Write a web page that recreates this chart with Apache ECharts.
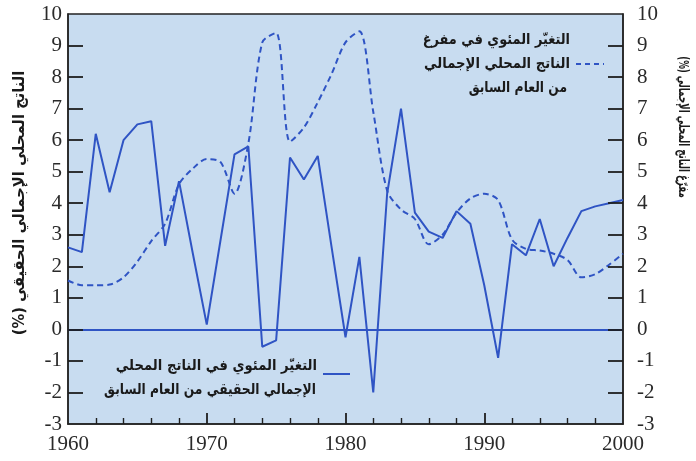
<!DOCTYPE html>
<html>
<head>
<meta charset="utf-8">
<script src="https://cdn.jsdelivr.net/npm/echarts@6/dist/echarts.min.js"></script>
<style>
  html, body { margin: 0; padding: 0; background: #ffffff; }
  #chart { width: 696px; height: 461px; }
</style>
</head>
<body>
<div id="chart"></div>
<script>
// Years on the horizontal axis
const years = [1960, 1961, 1962, 1963, 1964, 1965, 1966, 1967, 1968, 1969,
               1970, 1971, 1972, 1973, 1974, 1975, 1976, 1977, 1978, 1979,
               1980, 1981, 1982, 1983, 1984, 1985, 1986, 1987, 1988, 1989,
               1990, 1991, 1992, 1993, 1994, 1995, 1996, 1997, 1998, 1999, 2000];

// Annual % change in real GDP (solid line)
const realGdpGrowth = [2.6, 2.45, 6.2, 4.35, 6.0, 6.5, 6.6, 2.65, 4.7, 2.4,
                       0.15, 2.85, 5.55, 5.8, -0.55, -0.35, 5.45, 4.75, 5.5, 2.6,
                       -0.25, 2.3, -2.0, 4.3, 7.0, 3.7, 3.1, 2.9, 3.75, 3.35,
                       1.4, -0.9, 2.7, 2.35, 3.5, 2.0, 2.9, 3.75, 3.9, 4.0, 4.1];

// Annual % change in the GDP deflator (dashed line)
const deflatorChange = [1.55, 1.4, 1.4, 1.42, 1.65, 2.15, 2.8, 3.35, 4.6, 5.1,
                        5.4, 5.3, 4.3, 5.9, 9.1, 9.4, 5.95, 6.4, 7.2, 8.1,
                        9.1, 9.45, 6.9, 4.4, 3.8, 3.5, 2.7, 3.0, 3.7, 4.15,
                        4.3, 4.1, 2.85, 2.55, 2.5, 2.4, 2.2, 1.65, 1.75, 2.05, 2.4];

// Tick positions
const xMajorTicks = [1970, 1980, 1990];
const xMinorTicks = [1962, 1964, 1966, 1968, 1972, 1974, 1976, 1978,
                     1982, 1984, 1986, 1988, 1992, 1994, 1996, 1998];
const yTicks = [-2, -1, 0, 1, 2, 3, 4, 5, 6, 7, 8, 9];

// Axis ranges
const yMin = -3, yMax = 10, yStep = 1;
const xMin = 1960, xMax = 2000, xStep = 10;

// Texts
const leftTitle = '(%) الناتج المحلي الإجمالي الحقيقي';
const rightTitle = '(%) مفرّغ الناتج المحلي الإجمالي';
const deflatorLegend = ['التغيّر المئوي في مفرغ', 'الناتج المحلي الإجمالي', 'من العام السابق'];
const gdpLegend = ['التغيّر المئوي في الناتج المحلي', 'الإجمالي الحقيقي من العام السابق'];

const lineBlue = '#2f54c4';
const frame = '#222222';
const tickColor = '#1e1e1e';
const arabicFont = 'bold 15px "DejaVu Sans"';
const tickFont = { fontFamily: '"Liberation Serif", "DejaVu Serif", serif', fontSize: 21, color: '#2a2a2a' };

// Plot box and the data size of one pixel, used for tick lengths
const box = { left: 68, right: 73, top: 14, bottom: 37 };
const plotW = 696 - box.left - box.right;
const plotH = 461 - box.top - box.bottom;
const xPerPx = (xMax - xMin) / plotW;
const yPerPx = (yMax - yMin) / plotH;

// Inward tick marks as short segments
function tickSeg(from, to, width) {
  return [{ coord: from, lineStyle: { color: tickColor, width: width, type: 'solid' } }, { coord: to }];
}
const tickSegments = []
  .concat(xMajorTicks.map(v => tickSeg([v, yMin], [v, yMin + 11 * yPerPx], 1.8)))
  .concat(xMinorTicks.map(v => tickSeg([v, yMin], [v, yMin + 6 * yPerPx], 1.4)))
  .concat(yTicks.map(v => tickSeg([xMin, v], [xMin + 15 * xPerPx, v], 1.8)))
  .concat(yTicks.map(v => tickSeg([xMax, v], [xMax - 15 * xPerPx, v], 1.8)));

const chart = echarts.init(document.getElementById('chart'), null, { renderer: 'canvas' });

function valueAxis(pos, min, max, step, margin, formatter) {
  const label = Object.assign({ margin: margin }, tickFont);
  if (formatter) label.formatter = formatter;
  return {
    type: 'value', position: pos, min: min, max: max, interval: step,
    axisLine: { show: true, onZero: false, lineStyle: { color: frame, width: 1.5 } },
    axisTick: { show: false },
    axisLabel: label,
    splitLine: { show: false }
  };
}

function textEl(x, y, text, font, align, rotation, sx) {
  return {
    type: 'text', x: x, y: y, rotation: rotation || 0, scaleX: sx || 1, silent: true, z: 10,
    style: {
      text: text, font: font, fill: '#1a1a1a',
      align: align, verticalAlign: 'middle',
      textAlign: align, textVerticalAlign: 'middle'
    }
  };
}

const option = {
  animation: false,
  backgroundColor: '#ffffff',
  grid: {
    left: box.left, right: box.right, top: box.top, bottom: box.bottom,
    show: true, backgroundColor: '#c8dcf0', borderColor: frame, borderWidth: 1.5
  },
  xAxis: valueAxis('bottom', xMin, xMax, xStep, 10, v => String(v)),
  yAxis: [
    valueAxis('left', yMin, yMax, yStep, 6),
    valueAxis('right', yMin, yMax, yStep, 14)
  ],
  series: [
    {
      name: 'gdp', type: 'line',
      data: years.map((yr, i) => [yr, realGdpGrowth[i]]),
      symbol: 'none',
      lineStyle: { color: lineBlue, width: 2 },
      markLine: {
        silent: true, symbol: 'none', animation: false, label: { show: false },
        lineStyle: { color: lineBlue, width: 2, type: 'solid' },
        data: [{ yAxis: 0 }].concat(tickSegments)
      }
    },
    {
      name: 'deflator', type: 'line',
      data: years.map((yr, i) => [yr, deflatorChange[i]]),
      symbol: 'none', smooth: 0.3,
      lineStyle: { color: lineBlue, width: 2, type: [6, 4] }
    }
  ],
  graphic: [
    textEl(20, 203, leftTitle, 'bold 16px "DejaVu Sans"', 'center', Math.PI / 2, 0.92),
    textEl(683, 127, rightTitle, 'bold 14px "DejaVu Sans"', 'center', -Math.PI / 2, 0.62),
    textEl(570, 40, deflatorLegend[0], arabicFont, 'right', 0, 0.86),
    textEl(570, 64, deflatorLegend[1], arabicFont, 'right', 0, 0.88),
    textEl(567, 88, deflatorLegend[2], arabicFont, 'right', 0, 0.82),
    {
      type: 'line', silent: true, z: 10,
      shape: { x1: 576, y1: 64, x2: 604, y2: 64 },
      style: { stroke: lineBlue, lineWidth: 2, lineDash: [5, 4] }
    },
    textEl(317, 366, gdpLegend[0], arabicFont, 'right', 0, 0.88),
    textEl(316, 390, gdpLegend[1], arabicFont, 'right', 0, 0.82),
    {
      type: 'line', silent: true, z: 10,
      shape: { x1: 323, y1: 374, x2: 350, y2: 374 },
      style: { stroke: lineBlue, lineWidth: 2 }
    }
  ]
};

chart.setOption(option);
</script>
</body>
</html>
